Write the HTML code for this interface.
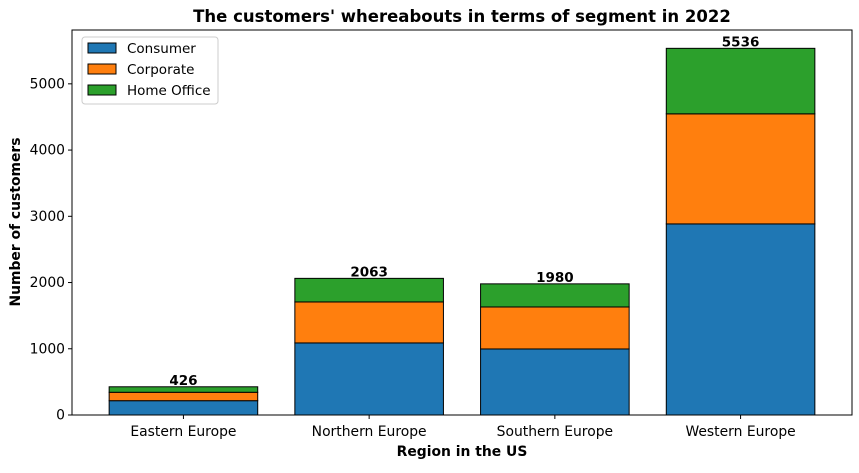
<!DOCTYPE html>
<html><head><meta charset="utf-8"><style>
body{margin:0;background:#fff;font-family:"Liberation Sans","DejaVu Sans",sans-serif}
svg text{font-family:"DejaVu Sans","Liberation Sans",sans-serif}
</style></head><body>
<svg id="chart" width="859" height="468">
<text x="462" y="22" text-anchor="middle" font-size="16.5" font-weight="bold">The customers' whereabouts in terms of segment in 2022</text>
<g id="bars"></g>
<rect x="72" y="30" width="780" height="385" fill="none" stroke="#000" stroke-width="1"/>
<g id="axes"></g>
<text x="462" y="456" text-anchor="middle" font-size="13.9" font-weight="bold">Region in the US</text>
<text transform="translate(20,222) rotate(-90)" text-anchor="middle" font-size="13.9" font-weight="bold">Number of customers</text>
<g>
<rect x="82" y="37" width="136" height="67" fill="#fff" stroke="#ccc" rx="3"/>
<g><rect x="88" y="43" width="28" height="10" fill="#1f77b4" stroke="#000"/><text x="127" y="53" font-size="13.5">Consumer</text></g>
<g><rect x="88" y="64" width="28" height="10" fill="#ff7f0e" stroke="#000"/><text x="127" y="74" font-size="13.5">Corporate</text></g>
<g><rect x="88" y="85" width="28" height="10" fill="#2ca02c" stroke="#000"/><text x="127" y="95" font-size="13.5">Home Office</text></g>
</g>
</svg>
<script>
const categories=["Eastern Europe","Northern Europe","Southern Europe","Western Europe"];
const consumer=[216,1088,997,2885];
const corporate=[127,619,634,1662];
const homeOffice=[83,356,349,989];
const yTicks=[0,1000,2000,3000,4000,5000];
const ns="http://www.w3.org/2000/svg";
const x0=72,x1=852,y0=415,y1=30;
const totals=categories.map((c,i)=>consumer[i]+corporate[i]+homeOffice[i]);
const yMax=Math.max(...totals)*1.05;
const xs=i=>x0+(i+0.6)/4.2*(x1-x0);
const ys=v=>y0-v/yMax*(y0-y1);
const bw=0.8/4.2*(x1-x0);
const bars=document.getElementById('bars'),axes=document.getElementById('axes');
function mk(tag,attrs,parent){const e=document.createElementNS(ns,tag);for(const k in attrs)e.setAttribute(k,attrs[k]);parent.appendChild(e);return e;}
const series=[["consumer",consumer,"#1f77b4"],["corporate",corporate,"#ff7f0e"],["home-office",homeOffice,"#2ca02c"]];
categories.forEach((c,i)=>{
  let base=0;
  series.forEach(([n,arr,col])=>{
    const r=mk('rect',{x:xs(i)-bw/2,y:ys(base+arr[i]),width:bw,height:ys(base)-ys(base+arr[i]),fill:col,stroke:'#000','stroke-width':1},bars);
    
    
    base+=arr[i];
  });
  const t=mk('text',{x:xs(i),y:ys(totals[i])-2,'text-anchor':'middle','font-size':13.5,'font-weight':'bold'},bars);
  t.textContent=totals[i];
  
  
  mk('line',{x1:xs(i),x2:xs(i),y1:y0,y2:y0+4,stroke:'#000'},axes);
  const xl=mk('text',{x:xs(i),y:y0+21,'text-anchor':'middle','font-size':13.9},axes);
  xl.textContent=c;
  
  
});
yTicks.forEach(v=>{
  mk('line',{x1:x0-4,x2:x0,y1:ys(v),y2:ys(v),stroke:'#000'},axes);
  const t=mk('text',{x:x0-7,y:ys(v)+4.5,'text-anchor':'end','font-size':13.9},axes);
  t.textContent=v;
  
  
});
</script>
</body></html>
